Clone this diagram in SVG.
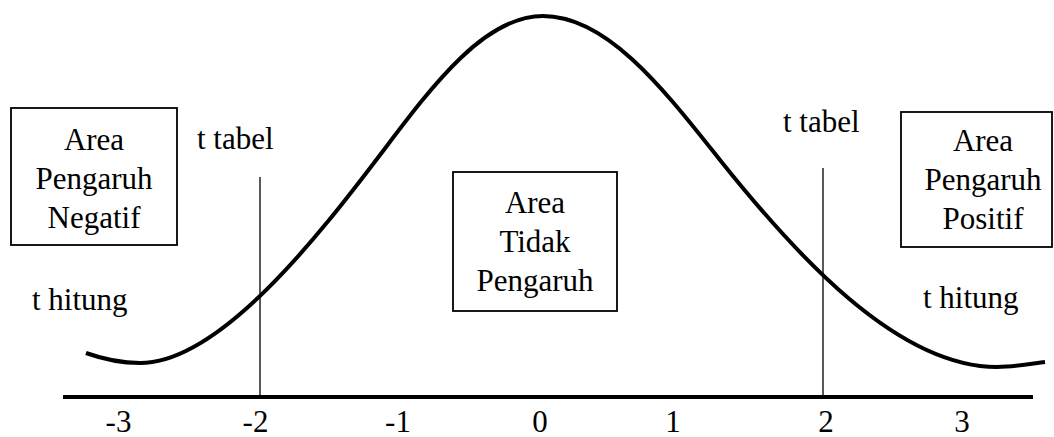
<svg xmlns="http://www.w3.org/2000/svg" width="1054" height="437" viewBox="0 0 1054 437">
<style>
.t{font-family:"Liberation Serif","DejaVu Serif",serif;font-size:31px;fill:#000}
.c{text-anchor:middle}
.box{fill:#fff;stroke:#000;stroke-width:1.8}
.thin{stroke:#000;stroke-width:1.3;fill:none}
.thick{stroke:#000;stroke-width:4;fill:none}
</style>
<rect width="1054" height="437" fill="#fff"/>
<g id="connectors">
<path id="curve" class="thick" d="M86,353 C100,358 120,363 140,363 C220,363 320,234 380,155 C430,89 483,16 543,16 C608,16 665,91 720,160 C795,254 897,367 997,367 C1015,367 1035,363 1045,362"/>
<line id="axis" class="thick" x1="63" y1="397" x2="1033" y2="397"/>
<line id="tline-left" class="thin" x1="260" y1="177" x2="260" y2="397"/>
<line id="tline-right" class="thin" x1="823" y1="168" x2="823" y2="397"/>
</g>
<g id="node-negatif" class="t">
<rect class="box" x="11" y="108" width="166" height="137"/>
<text class="c" x="94" y="150">Area</text>
<text class="c" x="94" y="189">Pengaruh</text>
<text class="c" x="94" y="228">Negatif</text>
</g>
<g id="node-tidak" class="t">
<rect class="box" x="453" y="172" width="164" height="139"/>
<text class="c" x="535" y="213">Area</text>
<text class="c" x="535" y="252">Tidak</text>
<text class="c" x="535" y="291">Pengaruh</text>
</g>
<g id="node-positif" class="t">
<rect class="box" x="901" y="112" width="151" height="135"/>
<text class="c" x="983" y="151">Area</text>
<text class="c" x="983" y="190">Pengaruh</text>
<text class="c" x="983" y="229">Positif</text>
</g>
<g id="labels" class="t">
<text x="197" y="149">t tabel</text>
<text x="783" y="132">t tabel</text>
<text x="32" y="310">t hitung</text>
<text x="923" y="308">t hitung</text>
</g>
<g id="ticks" class="t">
<text class="c" x="118.5" y="432">-3</text>
<text class="c" x="255.5" y="432">-2</text>
<text class="c" x="398" y="432">-1</text>
<text class="c" x="540" y="432">0</text>
<text class="c" x="673" y="432">1</text>
<text class="c" x="826" y="432">2</text>
<text class="c" x="962" y="432">3</text>
</g>
</svg>
